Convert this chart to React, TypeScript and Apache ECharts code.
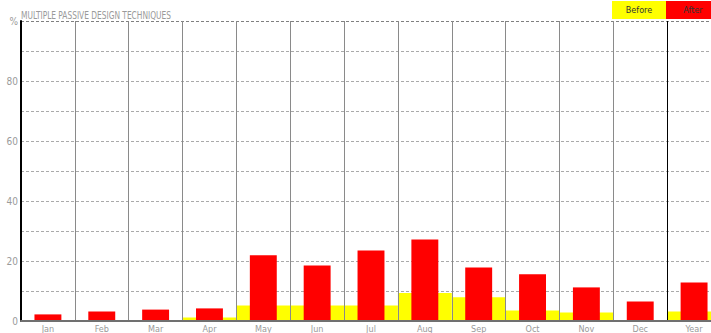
import React, { useEffect, useRef } from "react";
import * as echarts from "echarts";

const categories = ["Jan", "Feb", "Mar", "Apr", "May", "Jun", "Jul", "Aug", "Sep", "Oct", "Nov", "Dec", "Year"];
const beforeValues = [0, 0, 0, 1.2, 5.2, 5.2, 5.2, 9.3, 7.9, 3.5, 2.8, 0, 3.2];
const afterValues = [2.2, 3.2, 3.8, 4.2, 21.9, 18.5, 23.5, 27.2, 17.8, 15.6, 11.2, 6.5, 12.8];
const seriesNames = ["Before", "After"];
const chartTitle = "MULTIPLE PASSIVE DESIGN TECHNIQUES";

const FONT = "'Liberation Sans Narrow', 'DejaVu Sans Condensed', sans-serif";

export default function App() {
  const ref = useRef<HTMLDivElement>(null);
  useEffect(() => {
    if (!ref.current) return;
    const chart = echarts.init(ref.current, null, { renderer: "svg" });
    const splitColors = categories.map((_, i) => (i === 0 || i === 12 ? "#000" : "#8a8a8a"));
    const gridColors = Array.from({ length: 11 }, (_, i) => (i === 10 ? "#808080" : "#aaa"));
    chart.setOption({
      animation: false,
      grid: { left: 21, right: 0, top: 21, bottom: 11 },
      graphic: [
        {
          type: "text", x: 21, y: 20, scaleX: 0.83,
          style: { text: chartTitle, fill: "#9a9a9a", font: `10px ${FONT}`, align: "left", verticalAlign: "bottom" },
        },
        { type: "rect", left: 612, top: 1, shape: { width: 54, height: 18 }, style: { fill: "#ffff00" } },
        { type: "rect", left: 666, top: 1, shape: { width: 55, height: 18 }, style: { fill: "#ff0000" } },
        {
          type: "text", x: 639, y: 10,
          style: { text: seriesNames[0], fill: "#333", font: `9px ${FONT}`, align: "center", verticalAlign: "middle" },
        },
        {
          type: "text", x: 693, y: 10,
          style: { text: seriesNames[1], fill: "#333", font: `9px ${FONT}`, align: "center", verticalAlign: "middle" },
        },
      ],
      xAxis: [
        {
          type: "category",
          data: categories,
          boundaryGap: true,
          axisLine: { show: true, lineStyle: { color: "#707070", width: 2 } },
          axisTick: { show: false },
          axisLabel: { color: "#9a9a9a", fontFamily: FONT, fontSize: 9, margin: 3 },
          splitLine: { show: true, lineStyle: { color: splitColors, width: 1 } },
          z: 3,
        },
        {
          type: "category",
          data: categories,
          boundaryGap: true,
          show: false,
          position: "bottom",
        },
      ],
      yAxis: {
        type: "value",
        min: 0,
        max: 100,
        interval: 10,
        axisLine: { show: true, lineStyle: { color: "#000", width: 2 } },
        axisTick: { show: false },
        axisLabel: {
          color: "#9a9a9a",
          fontFamily: FONT,
          fontSize: 10,
          margin: 3,
          formatter: (v: number) => (v === 100 ? "%" : v % 20 === 0 ? String(v) : ""),
        },
        splitLine: {
          show: true,
          lineStyle: { color: gridColors, type: [3, 2], width: 1 },
        },
      },
      series: [
        {
          name: seriesNames[0],
          type: "bar",
          xAxisIndex: 0,
          data: beforeValues,
          barWidth: "100%",
          itemStyle: { color: "#ffff00" },
          z: 1,
        },
        {
          name: seriesNames[1],
          type: "bar",
          xAxisIndex: 1,
          data: afterValues,
          barWidth: "50%",
          itemStyle: { color: "#ff0000" },
          z: 2,
        },
      ],
    });
    return () => chart.dispose();
  }, []);
  return (
    <div style={{ position: "fixed", left: 0, top: 0, width: 711, height: 333, overflow: "hidden", background: "#fff" }}>
      <div ref={ref} style={{ width: 721, height: 333 }} />
    </div>
  );
}
